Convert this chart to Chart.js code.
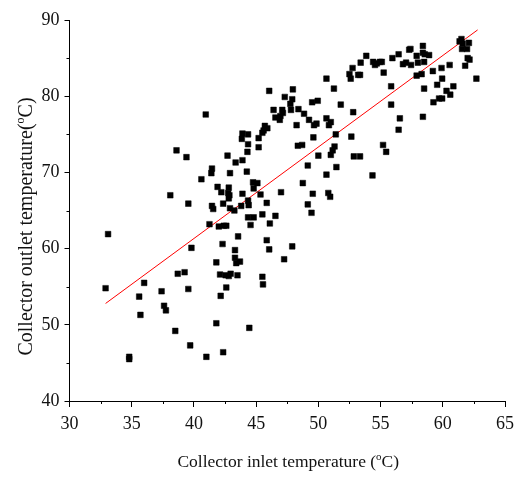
<!DOCTYPE html>
<html>
<head>
<meta charset="utf-8">
<script src="https://cdn.jsdelivr.net/npm/chart.js@4.4.1/dist/chart.umd.min.js"></script>
<style>
  html, body { margin: 0; padding: 0; background: #fff; }
  #wrap { width: 526px; height: 485px; }
</style>
</head>
<body>
<div id="wrap"><canvas id="c" width="526" height="485"></canvas></div>
<script>
// Measured collector temperatures (°C)
const inletTemp = [
  32.9, 33.1, 34.8, 34.8, 35.6, 35.7, 36.0, 37.4, 37.6, 37.75, 38.1, 38.5, 38.6, 38.7, 39.25, 39.4, 39.55, 39.55, 39.7, 39.8,
  40.6, 40.95, 41.0, 41.25, 41.4, 41.45, 41.45, 41.55, 41.8, 41.8, 41.9, 42.0, 42.1, 42.15, 42.2, 42.3, 42.35, 42.35, 42.4, 42.55,
  42.6, 42.6, 42.7, 42.75, 42.8, 42.8, 42.85, 42.9, 42.9, 42.95, 42.8, 43.25, 43.3, 43.3, 43.35, 43.4, 43.5, 43.55, 43.7, 43.8,
  43.85, 43.9, 43.9, 43.9, 44.25, 44.3, 44.35, 44.35, 44.35, 44.35, 44.4, 44.45, 44.55, 44.75, 44.8, 44.8, 45.1, 45.2, 45.2, 45.35,
  45.5, 45.5, 45.55, 45.5, 45.6, 45.7, 45.85, 45.85, 45.9, 46.05, 46.05, 46.1, 46.4, 46.55, 46.55, 46.9, 46.95, 47.0, 47.1, 47.15,
  47.25, 47.3, 47.75, 47.8, 47.9, 47.95, 47.9, 48.25, 48.35, 48.4, 48.7, 48.75, 48.85, 49.15, 49.15, 49.25, 49.45, 49.5, 49.55, 49.6,
  49.65, 49.85, 49.95, 50.0, 50.65, 50.65, 50.65, 50.8, 50.85, 50.95, 51.0, 51.0, 51.15, 51.25, 51.3, 51.4, 51.45, 51.8, 52.5, 52.6,
  52.65, 52.75, 52.8, 52.85, 53.2, 53.35, 53.4, 53.35, 53.85, 54.35, 54.4, 54.55, 54.7, 54.95, 55.1, 55.2, 55.25, 55.45, 55.85, 55.85,
  55.95, 56.45, 56.45, 56.55, 56.8, 57.05, 57.3, 57.4, 57.45, 57.9, 57.9, 58.0, 58.3, 58.4, 58.4, 58.4, 58.5, 58.5, 58.55, 58.9,
  59.2, 59.25, 59.55, 59.7, 59.9, 59.95, 59.95, 60.3, 60.55, 60.6, 60.85, 61.35, 61.5, 61.55, 61.6, 61.8, 61.95, 62.0, 62.1, 62.15,
  62.7
];
const outletTemp = [
  54.8, 61.9, 45.8, 45.5, 53.7, 51.3, 55.5, 54.4, 52.5, 51.9, 67.0, 49.2, 72.9, 56.7, 56.9, 72.0, 65.9, 54.7, 47.3, 60.1,
  69.1, 77.6, 45.8, 63.2, 69.9, 70.5, 65.6, 65.2, 58.2, 50.2, 68.1, 62.9, 56.6, 53.8, 67.4, 60.6, 65.9, 46.4, 63.0, 56.5,
  63.0, 54.9, 72.2, 67.3, 68.0, 66.6, 67.0, 69.9, 65.3, 56.7, 56.4, 65.0, 59.8, 58.8, 71.3, 58.1, 56.5, 61.6, 58.3, 65.6,
  74.4, 75.1, 71.6, 67.2, 70.1, 72.7, 73.7, 75.0, 66.3, 64.1, 65.7, 49.6, 63.1, 68.7, 67.9, 64.1, 68.6, 73.3, 74.5, 67.1,
  64.5, 56.3, 55.3, 75.2, 75.5, 76.1, 66.0, 61.1, 75.8, 59.9, 80.7, 63.3, 78.2, 64.3, 77.2, 76.9, 77.4, 67.4, 78.2, 77.8,
  58.6, 79.9, 79.0, 78.2, 79.6, 80.9, 60.3, 76.2, 73.5, 78.3, 73.6, 68.6, 77.7, 70.9, 65.8, 76.9, 64.7, 79.2, 67.2, 74.6,
  76.2, 76.4, 79.4, 72.2, 82.3, 69.7, 77.1, 67.3, 76.2, 66.8, 76.6, 72.3, 72.9, 81.0, 73.4, 75.0, 70.7, 78.9, 82.9, 82.3,
  74.7, 83.7, 77.9, 72.1, 82.8, 82.8, 84.4, 72.1, 85.3, 69.6, 84.5, 84.1, 84.3, 84.5, 84.5, 73.6, 83.1, 72.7, 81.3, 78.9,
  85.0, 85.5, 75.6, 77.1, 84.2, 84.4, 86.1, 86.2, 84.1, 85.3, 82.7, 84.4, 82.9, 86.6, 85.7, 77.3, 84.5, 81.0, 85.5, 85.4,
  83.3, 79.2, 81.5, 79.7, 83.7, 82.3, 79.7, 80.7, 84.1, 80.2, 81.3, 87.2, 87.5, 86.2, 86.9, 84.0, 86.2, 85.0, 87.0, 84.8,
  82.3
];
// Linear fit drawn across the measured inlet range
const fitX = [32.9, 62.8];
const fitY = [52.8, 88.7];

const xTicks = [30, 35, 40, 45, 50, 55, 60, 65];
const yTicks = [40, 50, 60, 70, 80, 90];
const xTitle = ['Collector inlet temperature (', 'o', 'C)'];
const yTitle = ['Collector outlet temperature(', 'o', 'C)'];

const FONT = '"Liberation Serif", "Times New Roman", serif';

const scatterPts = inletTemp.map((x, i) => ({ x: x, y: outletTemp[i] }));
const fitPts = fitX.map((x, i) => ({ x: x, y: fitY[i] }));

// Draws a title made of [before, superscript, after] pieces, centred at (0,0)
function drawSupText(ctx, parts, size) {
  const big = size + 'px ' + FONT;
  const small = Math.round(size * 0.62) + 'px ' + FONT;
  ctx.font = big; const w0 = ctx.measureText(parts[0]).width;
  ctx.font = small; const w1 = ctx.measureText(parts[1]).width;
  ctx.font = big; const w2 = ctx.measureText(parts[2]).width;
  let x = -(w0 + w1 + w2) / 2;
  ctx.textBaseline = 'alphabetic';
  ctx.textAlign = 'left';
  ctx.font = big; ctx.fillText(parts[0], x, size * 0.33); x += w0;
  ctx.font = small; ctx.fillText(parts[1], x, size * 0.33 - size * 0.38); x += w1;
  ctx.font = big; ctx.fillText(parts[2], x, size * 0.33);
}

const axisTitles = {
  id: 'axisTitles',
  afterDraw(chart) {
    const ctx = chart.ctx;
    const area = chart.chartArea;
    ctx.save();
    ctx.fillStyle = '#111';
    ctx.translate((area.left + area.right) / 2 + 1, 461);
    drawSupText(ctx, xTitle, 17.5);
    ctx.restore();
    ctx.save();
    ctx.fillStyle = '#111';
    ctx.translate(25, (area.top + area.bottom) / 2 + 16);
    ctx.rotate(-Math.PI / 2);
    drawSupText(ctx, yTitle, 20);
    ctx.restore();
  }
};

// Short unlabelled ticks halfway between the labelled ones
const minorTicks = {
  id: 'minorTicks',
  afterDraw(chart) {
    const ctx = chart.ctx;
    const xs = chart.scales.x, ys = chart.scales.y;
    const area = chart.chartArea;
    ctx.save();
    ctx.strokeStyle = '#000';
    ctx.lineWidth = 1;
    ctx.beginPath();
    for (let i = 0; i < xTicks.length - 1; i++) {
      const px = Math.round(xs.getPixelForValue((xTicks[i] + xTicks[i + 1]) / 2)) + 0.5;
      ctx.moveTo(px, area.bottom);
      ctx.lineTo(px, area.bottom + 3);
    }
    for (let i = 0; i < yTicks.length - 1; i++) {
      const py = Math.round(ys.getPixelForValue((yTicks[i] + yTicks[i + 1]) / 2)) + 0.5;
      ctx.moveTo(area.left, py);
      ctx.lineTo(area.left - 3, py);
    }
    ctx.stroke();
    ctx.restore();
  }
};

new Chart(document.getElementById('c'), {
  type: 'scatter',
  data: {
    datasets: [
      {
        label: 'Measured',
        data: scatterPts,
        pointStyle: 'rect',
        pointRadius: 4,
        pointHoverRadius: 4,
        backgroundColor: '#000',
        borderColor: '#000',
        borderWidth: 0.5
      },
      {
        label: 'Fit',
        type: 'line',
        data: fitPts,
        borderColor: '#ff0000',
        borderWidth: 1,
        pointRadius: 0,
        fill: false
      }
    ]
  },
  options: {
    responsive: false,
    animation: false,
    events: [],
    layout: { padding: { left: 0, right: 21, top: 20, bottom: 0 } },
    plugins: { legend: { display: false }, tooltip: { enabled: false } },
    scales: {
      x: {
        type: 'linear',
        min: 30, max: 65,
        afterBuildTicks(scale) { scale.ticks = xTicks.map(v => ({ value: v })); },
        afterFit(scale) { scale.height = 84; },
        border: { display: true, color: '#000', width: 1 },
        grid: { display: true, drawOnChartArea: false, drawTicks: true, tickLength: 6, color: '#000' },
        ticks: { color: '#111', padding: 6, font: { family: FONT, size: 18 }, maxRotation: 0 }
      },
      y: {
        type: 'linear',
        min: 40, max: 90,
        afterBuildTicks(scale) { scale.ticks = yTicks.map(v => ({ value: v })); },
        afterFit(scale) { scale.width = 69.5; },
        border: { display: true, color: '#000', width: 1 },
        grid: { display: true, drawOnChartArea: false, drawTicks: true, tickLength: 5, color: '#000' },
        ticks: { color: '#111', padding: 5, font: { family: FONT, size: 18 } }
      }
    }
  },
  plugins: [axisTitles, minorTicks]
});
</script>
</body>
</html>
